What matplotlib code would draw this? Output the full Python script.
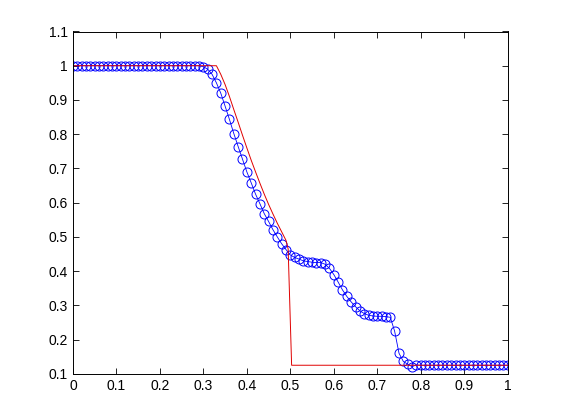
import numpy as np
import matplotlib
matplotlib.use('Agg')
import matplotlib.pyplot as plt

plt.rcParams['font.family'] = ['Liberation Sans', 'DejaVu Sans']

# numerical solution, one value per grid point x = 0, 0.01, ..., 1
x_num = np.linspace(0, 1, 101)
rho_num = [1.0] * 30 + [
    0.997, 0.99, 0.975, 0.95, 0.92, 0.882, 0.843, 0.802, 0.764, 0.727,
    0.69, 0.658, 0.625, 0.597, 0.568, 0.545, 0.521, 0.50, 0.48, 0.463,
    0.447, 0.44, 0.435, 0.43, 0.428, 0.426, 0.425, 0.425, 0.42, 0.408,
    0.39, 0.368, 0.345, 0.326, 0.31, 0.296, 0.284, 0.276, 0.271, 0.269,
    0.268, 0.268, 0.267, 0.265, 0.224, 0.16, 0.136, 0.128, 0.121, 0.126,
] + [0.125] * 21

# exact solution
x_exact = [0, 0.33, 0.34, 0.35, 0.36, 0.37, 0.38, 0.39, 0.40, 0.41, 0.42, 0.43, 0.44,
           0.45, 0.46, 0.47, 0.48, 0.49, 0.495, 0.503, 1.0]
rho_exact = [1.0, 1.0, 0.975, 0.945, 0.91, 0.872, 0.835, 0.797, 0.76, 0.724, 0.69, 0.657, 0.625,
             0.595, 0.567, 0.54, 0.515, 0.49, 0.465, 0.125, 0.125]

fig = plt.figure(figsize=(5.61, 4.20), dpi=100)
ax = fig.add_axes([0.13, 0.11, 0.775, 0.815])

ax.plot(x_num, rho_num, 'o-', color='#0000ff', mfc='none', mec='#0000ff',
        markersize=6.5, linewidth=0.6, markeredgewidth=0.7)
ax.plot(x_exact, rho_exact, '-', color='#e00000', linewidth=0.7)

ax.set_xlim(0, 1)
ax.set_ylim(0.1, 1.1)
ax.set_xticks(np.arange(0, 1.01, 0.1))
ax.set_yticks(np.arange(0.1, 1.11, 0.1))
ax.set_xticklabels(['0', '0.1', '0.2', '0.3', '0.4', '0.5', '0.6', '0.7', '0.8', '0.9', '1'])
ax.set_yticklabels(['0.1', '0.2', '0.3', '0.4', '0.5', '0.6', '0.7', '0.8', '0.9', '1', '1.1'])
ax.tick_params(direction='in', top=True, right=True, length=4, width=0.6, labelsize=10)
for s in ax.spines.values():
    s.set_linewidth(0.7)

fig.savefig('out.png', dpi=100)
